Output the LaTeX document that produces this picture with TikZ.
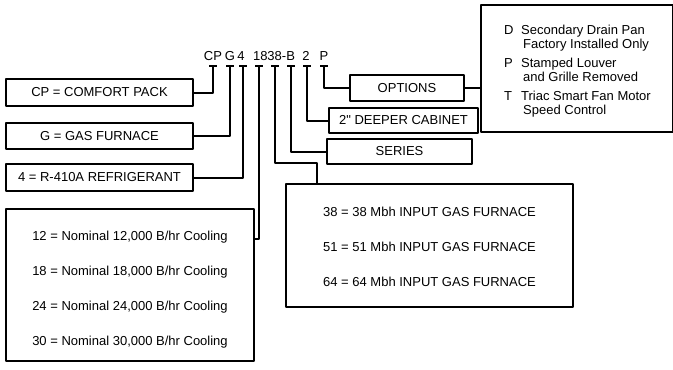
\documentclass[tikz,border=0pt]{standalone}
\usepackage{fontspec}
\setmainfont{Liberation Sans}
\begin{document}
\begin{tikzpicture}[x=1pt,y=-1pt,line join=round,
	font=\fontsize{13}{14}\selectfont,
	box/.style={draw,line width=2pt,inner sep=0pt,anchor=north west},
	lead/.style={line width=2pt},
	code/.style={anchor=base,inner sep=0pt}]
	\useasboundingbox (0,0) rectangle (673,370);
	% model number
	\node[code] (cCP) at (213,60) {CP};
	\node[code] (cG) at (230,60) {G};
	\node[code] (c4) at (241,60) {4};
	\node[code] (cSize) at (274,60) {1838-B};
	\node[code] (c2) at (306,60) {2};
	\node[code] (cP) at (324,60) {P};
	\coordinate (tCP) at (213,66);
	\coordinate (tG) at (230,66);
	\coordinate (t4) at (243,66);
	\coordinate (t18) at (259,66);
	\coordinate (t38) at (275,66);
	\coordinate (tB) at (291,66);
	\coordinate (t2) at (307,66);
	\coordinate (tP) at (324,66);
	\foreach \t in {tCP,tG,t4,t18,t38,tB,t2,tP}
		\draw[lead] ([xshift=-4pt]\t) -- ([xshift=4pt]\t);
	% boxes
	\node[box,minimum width=187pt,minimum height=27pt] (cp) at (5,78) {CP = COMFORT PACK};
	\node[box,minimum width=187pt,minimum height=26pt] (gas1) at (5,122) {G = GAS FURNACE};
	\node[box,minimum width=187pt,minimum height=27pt] (refr) at (5,163) {4 = R-410A REFRIGERANT};
	\node[box,minimum width=248pt,minimum height=152pt] (nom) at (5,208)
		{\begin{tabular}{c}
			\rule{0pt}{20pt}12 = Nominal 12,000 B/hr Cooling\\[21pt]
			18 = Nominal 18,000 B/hr Cooling\\[21pt]
			24 = Nominal 24,000 B/hr Cooling\\[21pt]
			30 = Nominal 30,000 B/hr Cooling
		\end{tabular}};
	\node[box,minimum width=287pt,minimum height=123pt] (furn) at (285,183)
		{\begin{tabular}{c}
			\rule{0pt}{17pt}38 = 38 Mbh INPUT GAS FURNACE\\[21pt]
			51 = 51 Mbh INPUT GAS FURNACE\\[21pt]
			64 = 64 Mbh INPUT GAS FURNACE
		\end{tabular}};
	\node[box,minimum width=145pt,minimum height=25pt] (series) at (326,138) {SERIES};
	\node[box,minimum width=149pt,minimum height=25pt] (deep) at (328,107) {2\textquotedbl\ DEEPER CABINET};
	\node[box,minimum width=114pt,minimum height=26pt] (opt) at (349,74) {OPTIONS};
	\node[box,minimum width=192pt,minimum height=127pt] (optlist) at (480,4) {};
	\node[anchor=base west,inner sep=0pt] (optitems) at (504,34)
		{\begin{tabular}[t]{@{}p{17pt}@{}l@{}}
			D & Secondary Drain Pan\\
			  & \hspace{2pt}Factory Installed Only\\[5pt]
			P & Stamped Louver\\
			  & \hspace{2pt}and Grille Removed\\[5pt]
			T & Triac Smart Fan Motor\\
			  & \hspace{2pt}Speed Control
		\end{tabular}};
	% leads
	\draw[lead] (tCP) |- (cp.east);
	\draw[lead] (tG) |- (gas1.east);
	\draw[lead] (t4) |- (refr.east);
	\draw[lead] (t18) |- ([yshift=-31pt]nom.north east);
	\draw[lead] (t38) |- ([xshift=32pt,yshift=20pt]furn.north west) -- ([xshift=32pt]furn.north west);
	\draw[lead] (tB) |- (series.west);
	\draw[lead] (t2) |- (deep.west);
	\draw[lead] (tP) |- (opt.west);
	\draw[lead] (opt.east) -- (opt.east -| optlist.west);
\end{tikzpicture}
\end{document}
